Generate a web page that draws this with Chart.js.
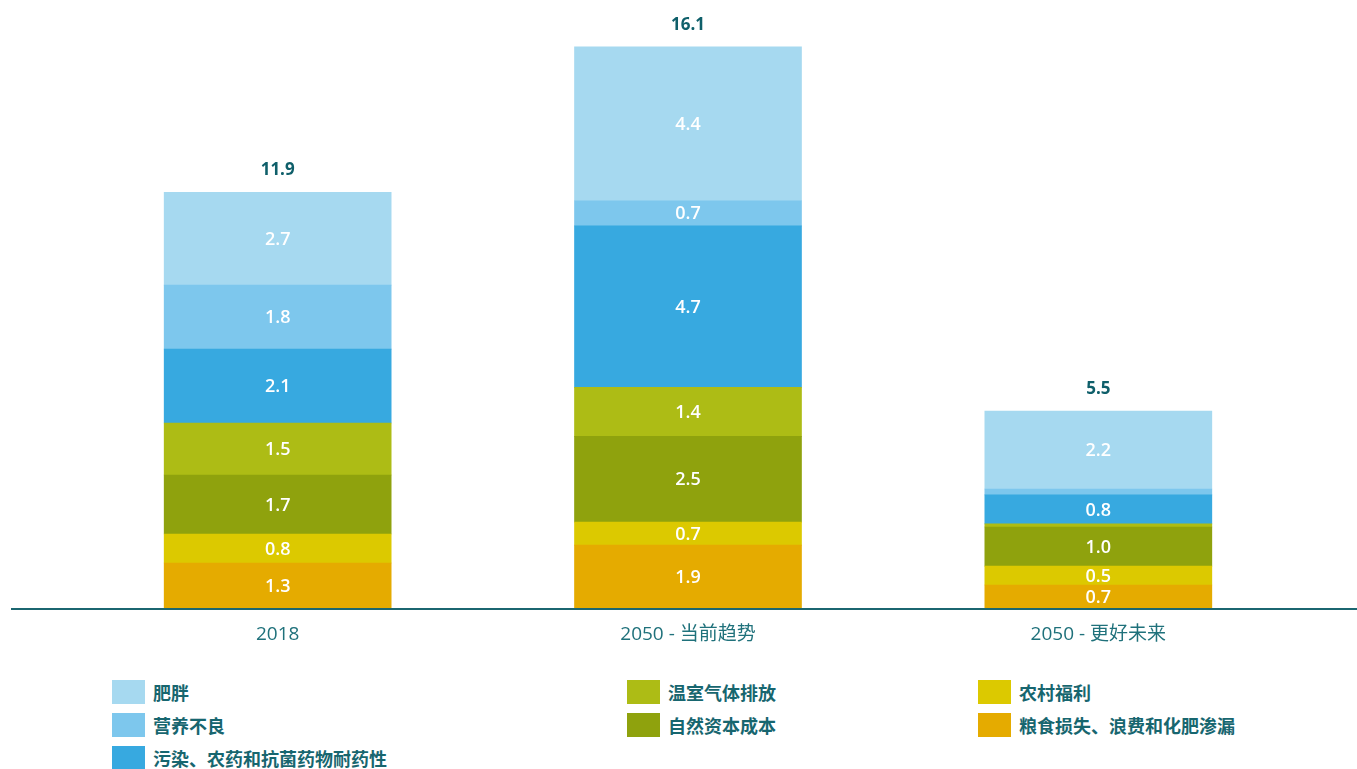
<!DOCTYPE html>
<html>
<head>
<meta charset="utf-8">
<script src="https://cdn.jsdelivr.net/npm/chart.js@4.4.1/dist/chart.umd.min.js"></script>
<style>
  html, body { margin: 0; padding: 0; background: #fff; }
  #wrap { position: relative; width: 1357px; height: 769px; overflow: hidden; font-family: "Open Sans", "Noto Sans CJK SC", sans-serif; }
  #cv { position: absolute; left: 0; top: 0; }
  .lg { position: absolute; display: flex; align-items: center; }
  .sw { width: 33px; height: 24px; margin-right: 8px; flex: none; }
  .lt { font-family: "Noto Sans CJK SC", sans-serif; font-weight: 700; font-size: 18px; color: #17666f; white-space: nowrap; line-height: 24px; }
</style>
</head>
<body>
<div id="wrap">
  <canvas id="cv" width="1357" height="660"></canvas>
  <div id="legend"></div>
</div>
<script>
const categories = ['2018', '2050 - 当前趋势', '2050 - 更好未来'];
const seriesNames = ['肥胖', '营养不良', '污染、农药和抗菌药物耐药性', '温室气体排放', '自然资本成本', '农村福利', '粮食损失、浪费和化肥渗漏'];
// values
const obesity      = [2.66, 4.41, 2.23];
const malnutrition = [1.83, 0.72, 0.17];
const pollution    = [2.12, 4.63, 0.83];
const ghg          = [1.49, 1.40, 0.09];
const naturalCap   = [1.69, 2.46, 1.12];
const rural        = [0.83, 0.66, 0.54];
const foodLoss     = [1.29, 1.80, 0.66];
// printed labels
const obesityLabels      = ['2.7', '4.4', '2.2'];
const malnutritionLabels = ['1.8', '0.7', ''];
const pollutionLabels    = ['2.1', '4.7', '0.8'];
const ghgLabels          = ['1.5', '1.4', ''];
const naturalCapLabels   = ['1.7', '2.5', '1.0'];
const ruralLabels        = ['0.8', '0.7', '0.5'];
const foodLossLabels     = ['1.3', '1.9', '0.7'];
const totalLabels        = ['11.9', '16.1', '5.5'];

const colors = ['#a6d9f0', '#7dc7ed', '#37a9e0', '#adbc15', '#8fa20d', '#dcc900', '#e5ab00'];
const seriesValues = [obesity, malnutrition, pollution, ghg, naturalCap, rural, foodLoss];
const seriesLabels = [obesityLabels, malnutritionLabels, pollutionLabels, ghgLabels, naturalCapLabels, ruralLabels, foodLossLabels];

// stacking order bottom -> top
const order = [6, 5, 4, 3, 2, 1, 0];
const datasets = order.map(i => ({
  label: seriesNames[i],
  data: seriesValues[i],
  backgroundColor: colors[i],
  textLabels: seriesLabels[i],
  borderWidth: 0,
  barThickness: 227
}));

const FONT = '"Open Sans", "Noto Sans CJK SC", sans-serif';

const labelPlugin = {
  id: 'labels',
  afterDatasetsDraw(chart) {
    const ctx = chart.ctx;
    ctx.save();
    ctx.textAlign = 'center';
    ctx.textBaseline = 'middle';
    chart.data.datasets.forEach((ds, di) => {
      const meta = chart.getDatasetMeta(di);
      meta.data.forEach((bar, j) => {
        const t = ds.textLabels[j];
        if (!t) return;
        ctx.fillStyle = '#ffffff';
        ctx.font = '600 18px ' + FONT;
        ctx.fillText(t, bar.x, (bar.y + bar.base) / 2 + 1);
      });
    });
    const top = chart.getDatasetMeta(chart.data.datasets.length - 1);
    top.data.forEach((bar, j) => {
      ctx.fillStyle = '#0f5f6a';
      ctx.font = 'bold 17px ' + FONT;
      ctx.fillText(totalLabels[j], bar.x, bar.y - 22);
    });
    // baseline
    const yb = chart.scales.y.getPixelForValue(0);
    ctx.fillStyle = '#1b6670';
    ctx.fillRect(11, yb, 1346, 2);
    ctx.restore();
  }
};

new Chart(document.getElementById('cv'), {
  type: 'bar',
  data: { labels: categories, datasets },
  options: {
    responsive: false,
    animation: false,
    layout: { padding: { left: 72.5, right: 53.5, top: 13, bottom: 12 } },
    plugins: { legend: { display: false }, tooltip: { enabled: false } },
    scales: {
      x: {
        stacked: true,
        grid: { display: false, drawTicks: false },
        border: { display: false },
        ticks: { color: '#1f717b', font: { family: FONT, size: 19 }, padding: 15 },
        afterFit: (s) => { s.height = 40; }
      },
      y: {
        stacked: true,
        display: false,
        min: 0,
        max: 17.05
      }
    }
  },
  plugins: [labelPlugin]
});

// HTML legend
const legendPos = [
  [112, 680], [112, 713], [112, 746],
  [627, 680], [627, 713],
  [978, 680], [978, 713]
];
const lg = document.getElementById('legend');
seriesNames.forEach((n, i) => {
  const d = document.createElement('div');
  d.className = 'lg';
  d.style.left = legendPos[i][0] + 'px';
  d.style.top = legendPos[i][1] + 'px';
  const sw = document.createElement('div');
  sw.className = 'sw';
  sw.style.background = colors[i];
  const t = document.createElement('span');
  t.className = 'lt';
  t.textContent = n;
  d.appendChild(sw);
  d.appendChild(t);
  lg.appendChild(d);
});
</script>
</body>
</html>
